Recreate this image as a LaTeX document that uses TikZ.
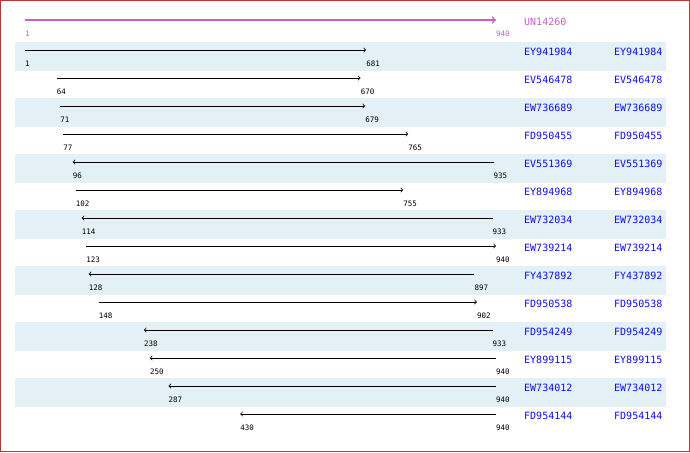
\documentclass[tikz,border=0pt]{standalone}
\usepackage{fontspec}
\setmonofont{DejaVu Sans Mono}
\usepackage{tikz}
\usetikzlibrary{arrows}
\usetikzlibrary{positioning}
\definecolor{mpink}{rgb}{0.78, 0.38, 0.78}
\definecolor{mstripe}{rgb}{0.89, 0.94, 0.96}
\definecolor{mblue}{rgb}{0.05, 0.05, 0.95}
\definecolor{mframe}{rgb}{0.75, 0.2, 0.2}
\tikzset{stripe/.style = {fill = mstripe}}
\tikzset{hit/.style = {line width = 0.8pt, black}}
\tikzset{poslabel/.style = {anchor = west, yshift = -13.5pt, inner sep = 0,
                            font = \ttfamily\fontsize{7.5}{8}\selectfont}}
\tikzset{idlabel/.style = {anchor = west, inner sep = 0, mblue,
                           font = \ttfamily\fontsize{10}{12}\selectfont}}
\begin{document}
\begin{tikzpicture}[x = 1pt, y = -1pt]
      \useasboundingbox (0, 0) rectangle (690, 452);

      \fill [stripe] (15, 42) rectangle (666, 71);
      \fill [stripe] (15, 98) rectangle (666, 127);
      \fill [stripe] (15, 154) rectangle (666, 183);
      \fill [stripe] (15, 210) rectangle (666, 239);
      \fill [stripe] (15, 266) rectangle (666, 295);
      \fill [stripe] (15, 322) rectangle (666, 351);
      \fill [stripe] (15, 378) rectangle (666, 407);

      % query
      \coordinate (q0a) at (25, 20);
      \coordinate (q0b) at (496, 20);
      \draw [->, line width = 1.6pt, mpink] (q0a) -- (q0b);
      \node [poslabel, mpink] (q0al) at (q0a) {1};
      \node [poslabel, mpink] (q0bl) at (q0b) {940};
      \node [idlabel, mpink] (q0n) at (524, 22) {UN14260};

      % hits
      \coordinate (r1a) at (25, 50);
      \coordinate (r1b) at (366.1, 50);
      \draw [hit, ->] (r1a) -- (r1b);
      \node [poslabel] (r1al) at (r1a) {1};
      \node [poslabel] (r1bl) at (r1b) {681};
      \node [idlabel] (r1n) at (524, 52) {EY941984};
      \node [idlabel] (r1m) at (614, 52) {EY941984};

      \coordinate (r2a) at (56.6, 78);
      \coordinate (r2b) at (360.6, 78);
      \draw [hit, ->] (r2a) -- (r2b);
      \node [poslabel] (r2al) at (r2a) {64};
      \node [poslabel] (r2bl) at (r2b) {670};
      \node [idlabel] (r2n) at (524, 80) {EV546478};
      \node [idlabel] (r2m) at (614, 80) {EV546478};

      \coordinate (r3a) at (60.1, 106);
      \coordinate (r3b) at (365.1, 106);
      \draw [hit, ->] (r3a) -- (r3b);
      \node [poslabel] (r3al) at (r3a) {71};
      \node [poslabel] (r3bl) at (r3b) {679};
      \node [idlabel] (r3n) at (524, 108) {EW736689};
      \node [idlabel] (r3m) at (614, 108) {EW736689};

      \coordinate (r4a) at (63.1, 134);
      \coordinate (r4b) at (408.2, 134);
      \draw [hit, ->] (r4a) -- (r4b);
      \node [poslabel] (r4al) at (r4a) {77};
      \node [poslabel] (r4bl) at (r4b) {765};
      \node [idlabel] (r4n) at (524, 136) {FD950455};
      \node [idlabel] (r4m) at (614, 136) {FD950455};

      \coordinate (r5a) at (72.7, 162);
      \coordinate (r5b) at (493.5, 162);
      \draw [hit, <-] (r5a) -- (r5b);
      \node [poslabel] (r5al) at (r5a) {96};
      \node [poslabel] (r5bl) at (r5b) {935};
      \node [idlabel] (r5n) at (524, 164) {EV551369};
      \node [idlabel] (r5m) at (614, 164) {EV551369};

      \coordinate (r6a) at (75.7, 190);
      \coordinate (r6b) at (403.2, 190);
      \draw [hit, ->] (r6a) -- (r6b);
      \node [poslabel] (r6al) at (r6a) {102};
      \node [poslabel] (r6bl) at (r6b) {755};
      \node [idlabel] (r6n) at (524, 192) {EY894968};
      \node [idlabel] (r6m) at (614, 192) {EY894968};

      \coordinate (r7a) at (81.7, 218);
      \coordinate (r7b) at (492.5, 218);
      \draw [hit, <-] (r7a) -- (r7b);
      \node [poslabel] (r7al) at (r7a) {114};
      \node [poslabel] (r7bl) at (r7b) {933};
      \node [idlabel] (r7n) at (524, 220) {EW732034};
      \node [idlabel] (r7m) at (614, 220) {EW732034};

      \coordinate (r8a) at (86.2, 246);
      \coordinate (r8b) at (496, 246);
      \draw [hit, ->] (r8a) -- (r8b);
      \node [poslabel] (r8al) at (r8a) {123};
      \node [poslabel] (r8bl) at (r8b) {940};
      \node [idlabel] (r8n) at (524, 248) {EW739214};
      \node [idlabel] (r8m) at (614, 248) {EW739214};

      \coordinate (r9a) at (88.7, 274);
      \coordinate (r9b) at (474.4, 274);
      \draw [hit, <-] (r9a) -- (r9b);
      \node [poslabel] (r9al) at (r9a) {128};
      \node [poslabel] (r9bl) at (r9b) {897};
      \node [idlabel] (r9n) at (524, 276) {FY437892};
      \node [idlabel] (r9m) at (614, 276) {FY437892};

      \coordinate (r10a) at (98.7, 302);
      \coordinate (r10b) at (476.9, 302);
      \draw [hit, ->] (r10a) -- (r10b);
      \node [poslabel] (r10al) at (r10a) {148};
      \node [poslabel] (r10bl) at (r10b) {902};
      \node [idlabel] (r10n) at (524, 304) {FD950538};
      \node [idlabel] (r10m) at (614, 304) {FD950538};

      \coordinate (r11a) at (143.9, 330);
      \coordinate (r11b) at (492.5, 330);
      \draw [hit, <-] (r11a) -- (r11b);
      \node [poslabel] (r11al) at (r11a) {238};
      \node [poslabel] (r11bl) at (r11b) {933};
      \node [idlabel] (r11n) at (524, 332) {FD954249};
      \node [idlabel] (r11m) at (614, 332) {FD954249};

      \coordinate (r12a) at (149.9, 358);
      \coordinate (r12b) at (496, 358);
      \draw [hit, <-] (r12a) -- (r12b);
      \node [poslabel] (r12al) at (r12a) {250};
      \node [poslabel] (r12bl) at (r12b) {940};
      \node [idlabel] (r12n) at (524, 360) {EY899115};
      \node [idlabel] (r12m) at (614, 360) {EY899115};

      \coordinate (r13a) at (168.5, 386);
      \coordinate (r13b) at (496, 386);
      \draw [hit, <-] (r13a) -- (r13b);
      \node [poslabel] (r13al) at (r13a) {287};
      \node [poslabel] (r13bl) at (r13b) {940};
      \node [idlabel] (r13n) at (524, 388) {EW734012};
      \node [idlabel] (r13m) at (614, 388) {EW734012};

      \coordinate (r14a) at (240.2, 414);
      \coordinate (r14b) at (496, 414);
      \draw [hit, <-] (r14a) -- (r14b);
      \node [poslabel] (r14al) at (r14a) {430};
      \node [poslabel] (r14bl) at (r14b) {940};
      \node [idlabel] (r14n) at (524, 416) {FD954144};
      \node [idlabel] (r14m) at (614, 416) {FD954144};

      \draw [mframe, line width = 1.2pt] (0.6, 0.6) rectangle (689.4, 451.4);
    \end{tikzpicture}
\end{document}
